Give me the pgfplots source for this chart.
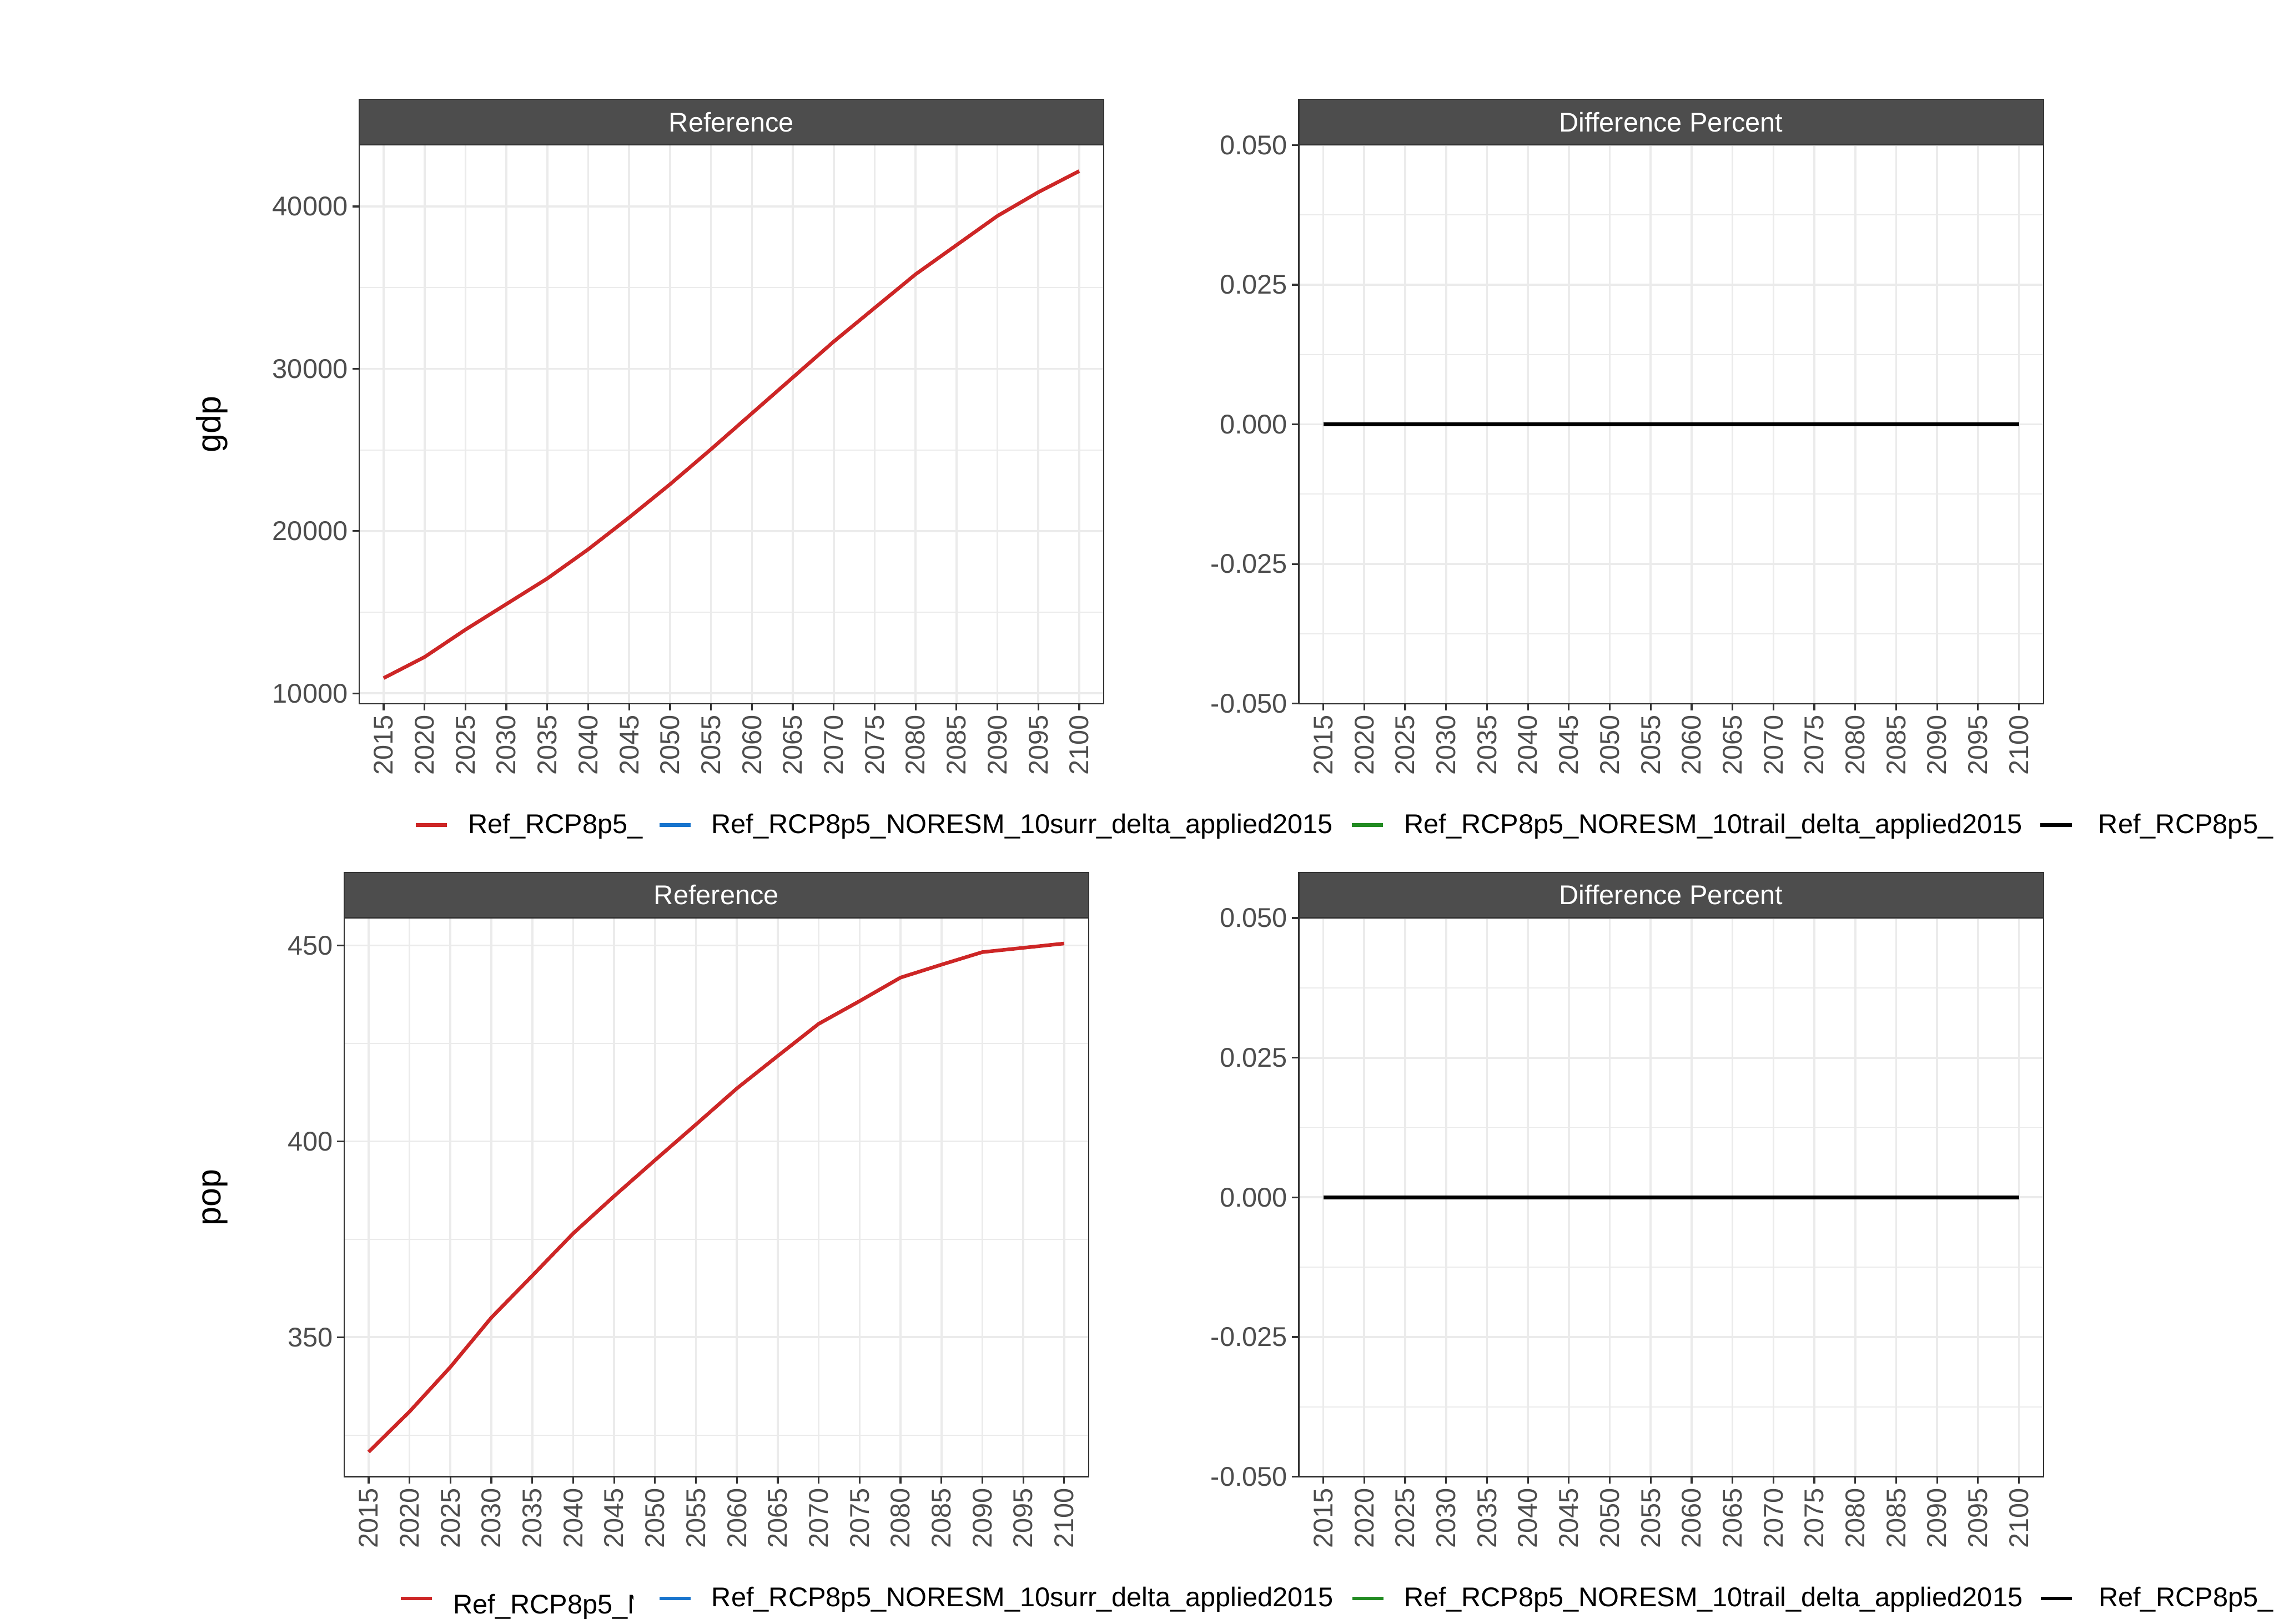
\documentclass[border=0pt]{standalone}
\usepackage{fontspec}
\setmainfont{Liberation Sans}
\usepackage{pgfplots}
\pgfplotsset{compat=1.18}

\definecolor{gray30}{HTML}{4D4D4D}
\definecolor{gray20}{HTML}{333333}
\definecolor{grid92}{HTML}{EBEBEB}
\definecolor{refred}{HTML}{CD2626}
\definecolor{surrblue}{HTML}{1874CD}
\definecolor{trailgreen}{HTML}{228B22}

\newcommand{\ticksize}{\fontsize{12}{14.4}\selectfont}
% clipped legend label (first entry of the lower legend is cut off)
\newcommand{\cliptext}[2]{\tikz[baseline=0pt]{\clip (0pt,-5pt) rectangle (#1,15pt);
  \node[anchor=base west, inner sep=0pt, outer sep=0pt, text=black] at (0pt,0pt) {#2};}}

\pgfplotsset{
  panel/.style={
    scale only axis, width=330.1pt, height=247.7pt,
    xmin=2012, xmax=2103,
    xtick={2015,2020,...,2100},
    xmajorgrids, ymajorgrids, yminorgrids,
    major grid style={line width=0.9pt, grid92},
    minor grid style={line width=0.45pt, grid92},
    axis line style={gray20, line width=0.55pt},
    tick align=outside, major tick length=3pt, minor tick length=0pt,
    tick style={gray20, line width=0.8pt},
    xtick pos=bottom, ytick pos=left,
    scaled ticks=false,
    tick label style={font=\ticksize, text=gray30, inner sep=0pt},
    xticklabel style={rotate=90, anchor=east},
    yticklabel style={anchor=east},
    xticklabel shift=1.8pt, yticklabel shift=1.8pt,
    /pgf/number format/assume math mode=true,
    /pgf/number format/1000 sep={},
    every axis title/.style={at={(0.5,1)}, anchor=south, fill=gray30, draw=gray20,
      line width=0.55pt, text=white, font=\ticksize, minimum width=330.1pt,
      minimum height=19.9pt, inner sep=0pt},
    every axis y label/.style={rotate=90, anchor=base, font=\fontsize{15}{18}\selectfont},
    legend image code/.code={\draw[line width=1.6pt, line cap=butt] (0pt,0pt) -- (13.8pt,0pt);},
    legend style={draw=none, fill=none, inner sep=0pt, outer sep=0pt, anchor=west,
      font=\ticksize, nodes={inner sep=0pt, outer sep=0pt}, column sep=0pt,
      cells={anchor=west}},
    legend columns=4,
  },
  series/.style={line width=1.6pt, line join=round},
  diffpanel/.style={
    panel, title={Difference Percent},
    ymin=-0.05, ymax=0.05,
    ytick={-0.05,-0.025,0,0.025,0.05},
    yticklabels={-0.050,-0.025,0.000,0.025,0.050},
    minor ytick={-0.0375,-0.0125,0.0125,0.0375},
  },
}

\begin{document}
\begin{tikzpicture}
\useasboundingbox (0pt,0pt) rectangle (1008pt,720pt);
\clip (0pt,0pt) rectangle (1008pt,720pt);

% ---- gdp, reference
\begin{axis}[panel, at={(159.17pt,408.0pt)}, anchor=south west,
  title={Reference}, ylabel={gdp},
  ylabel style={at={(axis description cs:-0.1861,0.5)}},
  ymin=9366, ymax=43788,
  ytick={10000,20000,30000,40000},
  minor ytick={15000,25000,35000},
  legend style={at={(axis description cs:0.0740,-0.2174)}}]
\addplot[series, refred] table {
x y
2015 10940
2020 12239
2025 13926
2030 15502
2035 17078
2040 18875
2045 20838
2050 22884
2055 25040
2060 27252
2065 29464
2070 31675
2075 33749
2080 35822
2085 37620
2090 39416
2095 40882
2100 42182
};
\addlegendentry{\makebox[92.5pt][l]{\hspace*{8.5pt}Ref\_RCP8p5\_}}
\addlegendimage{series, surrblue}
\addlegendentry{\makebox[291.6pt][l]{\hspace*{8.5pt}Ref\_RCP8p5\_NORESM\_10surr\_delta\_applied2015}}
\addlegendimage{series, trailgreen}
\addlegendentry{\makebox[289.8pt][l]{\hspace*{8.5pt}Ref\_RCP8p5\_NORESM\_10trail\_delta\_applied2015}}
\addlegendimage{series, black}
\addlegendentry{\hspace*{11.1pt}Ref\_RCP8p5\_NORESM\_10}
\end{axis}

% ---- gdp, difference
\begin{axis}[diffpanel, at={(575.7pt,408.0pt)}, anchor=south west]
\addplot[series, surrblue] coordinates {(2015,0) (2020,0) (2025,0) (2030,0) (2035,0) (2040,0) (2045,0) (2050,0) (2055,0) (2060,0) (2065,0) (2070,0) (2075,0) (2080,0) (2085,0) (2090,0) (2095,0) (2100,0)};
\addplot[series, trailgreen] coordinates {(2015,0) (2020,0) (2025,0) (2030,0) (2035,0) (2040,0) (2045,0) (2050,0) (2055,0) (2060,0) (2065,0) (2070,0) (2075,0) (2080,0) (2085,0) (2090,0) (2095,0) (2100,0)};
\addplot[series, black] coordinates {(2015,0) (2020,0) (2025,0) (2030,0) (2035,0) (2040,0) (2045,0) (2050,0) (2055,0) (2060,0) (2065,0) (2070,0) (2075,0) (2080,0) (2085,0) (2090,0) (2095,0) (2100,0)};
\end{axis}

% ---- pop, reference
\begin{axis}[panel, at={(152.5pt,65.25pt)}, anchor=south west,
  title={Reference}, ylabel={pop},
  ylabel style={at={(axis description cs:-0.1659,0.5)}},
  ymin=314.4, ymax=457.0,
  ytick={350,400,450},
  minor ytick={325,375,425},
  legend style={at={(axis description cs:0.0741,-0.2182)}}]
\addplot[series, refred] table {
x y
2015 320.7
2020 331.0
2025 342.4
2030 355.0
2035 365.7
2040 376.5
2045 386.0
2050 395.2
2055 404.3
2060 413.5
2065 421.8
2070 430.0
2075 435.8
2080 441.8
2085 445.1
2090 448.3
2095 449.4
2100 450.5
};
\addlegendentry{\makebox[99.2pt][l]{\hspace*{8.5pt}\cliptext{79.8pt}{Ref\_RCP8p5\_NORESM}}}
\addlegendimage{series, surrblue}
\addlegendentry{\makebox[291.6pt][l]{\hspace*{8.5pt}Ref\_RCP8p5\_NORESM\_10surr\_delta\_applied2015}}
\addlegendimage{series, trailgreen}
\addlegendentry{\makebox[289.8pt][l]{\hspace*{8.5pt}Ref\_RCP8p5\_NORESM\_10trail\_delta\_applied2015}}
\addlegendimage{series, black}
\addlegendentry{\hspace*{11.1pt}Ref\_RCP8p5\_NORESM\_10}
\end{axis}

% ---- pop, difference
\begin{axis}[diffpanel, at={(575.7pt,65.25pt)}, anchor=south west]
\addplot[series, surrblue] coordinates {(2015,0) (2020,0) (2025,0) (2030,0) (2035,0) (2040,0) (2045,0) (2050,0) (2055,0) (2060,0) (2065,0) (2070,0) (2075,0) (2080,0) (2085,0) (2090,0) (2095,0) (2100,0)};
\addplot[series, trailgreen] coordinates {(2015,0) (2020,0) (2025,0) (2030,0) (2035,0) (2040,0) (2045,0) (2050,0) (2055,0) (2060,0) (2065,0) (2070,0) (2075,0) (2080,0) (2085,0) (2090,0) (2095,0) (2100,0)};
\addplot[series, black] coordinates {(2015,0) (2020,0) (2025,0) (2030,0) (2035,0) (2040,0) (2045,0) (2050,0) (2055,0) (2060,0) (2065,0) (2070,0) (2075,0) (2080,0) (2085,0) (2090,0) (2095,0) (2100,0)};
\end{axis}
\end{tikzpicture}
\end{document}
